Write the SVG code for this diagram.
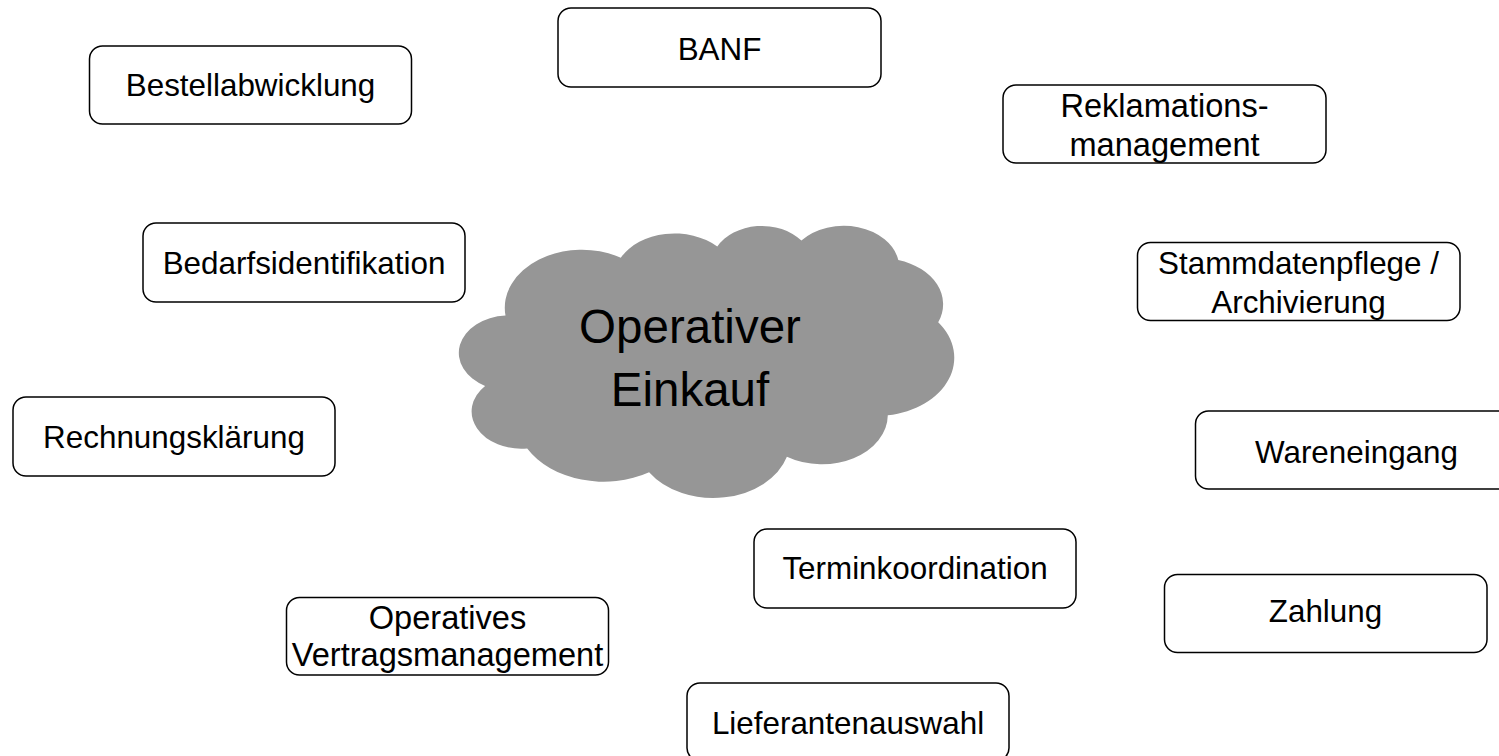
<svg xmlns="http://www.w3.org/2000/svg" width="1499" height="756" viewBox="0 0 1499 756">
<style>
.box{fill:#fff;stroke:#000;stroke-width:1.5}
.t{font-family:"Liberation Sans",Arial,sans-serif;font-size:31.4px;fill:#000;text-anchor:middle}
.w{font-size:32.6px}
.c{font-family:"Liberation Sans",Arial,sans-serif;font-size:47.5px;fill:#000;text-anchor:middle}
</style>
<rect width="1499" height="756" fill="#fff"/>
<g id="cloud">
<path fill="#969696" d="M505.5,315.5 A77.07,57.86 0 0 1 620.8,257.7 A60.86,45.76 0 0 1 717.3,246.6 A49.81,37.43 0 0 1 801.4,240.6 A55.43,41.52 0 0 1 898.3,260.1 A60.86,45.79 0 0 1 938.2,322.3 A77.32,58.05 0 0 1 887.8,415.2 A66.02,49.53 0 0 1 786.9,456.8 A77.05,58.02 0 0 1 649.1,472.2 A88.1,66.38 0 0 1 527.2,448.4 A49.76,37.26 0 0 1 485.1,385.9 A49.59,37.43 0 0 1 505.5,315.5 Z"/>
<text class="c" x="690" y="342.5">Operativer</text>
<text class="c" x="690" y="405.5">Einkauf</text>
</g>
<g id="connectors"></g>
<g id="banf"><rect class="box" x="558" y="8" width="323" height="79" rx="13"/><text class="t" x="719.5" y="60">BANF</text></g>
<g id="bestellabwicklung"><rect class="box" x="89.5" y="46" width="322" height="78" rx="13"/><text class="t" x="250.5" y="96">Bestellabwicklung</text></g>
<g id="reklamation"><rect class="box" x="1003" y="85" width="323" height="78" rx="13"/><text class="t w" x="1164.5" y="117">Reklamations-</text><text class="t w" x="1164.5" y="155.5">management</text></g>
<g id="bedarfsidentifikation"><rect class="box" x="143" y="223" width="322" height="79" rx="13"/><text class="t" x="304" y="273.5">Bedarfsidentifikation</text></g>
<g id="stammdaten"><rect class="box" x="1137.5" y="242.5" width="322.5" height="78" rx="13"/><text class="t" x="1298.5" y="274">Stammdatenpflege /</text><text class="t" x="1298.5" y="312.5">Archivierung</text></g>
<g id="rechnungsklaerung"><rect class="box" x="13" y="397" width="322" height="79" rx="13"/><text class="t" x="174" y="448">Rechnungsklärung</text></g>
<g id="wareneingang"><rect class="box" x="1195.5" y="411" width="322" height="78" rx="13"/><text class="t" x="1356.5" y="463">Wareneingang</text></g>
<g id="terminkoordination"><rect class="box" x="754" y="529" width="322" height="79" rx="13"/><text class="t" x="915" y="578.5">Terminkoordination</text></g>
<g id="zahlung"><rect class="box" x="1164.5" y="574.5" width="322.5" height="78" rx="13"/><text class="t" x="1325.5" y="622">Zahlung</text></g>
<g id="vertragsmanagement"><rect class="box" x="286.5" y="597.5" width="322" height="77.5" rx="13"/><text class="t w" x="447.5" y="628.5">Operatives</text><text class="t w" x="447.5" y="665.5">Vertragsmanagement</text></g>
<g id="lieferantenauswahl"><rect class="box" x="687" y="683" width="322" height="78" rx="13"/><text class="t" x="848" y="734">Lieferantenauswahl</text></g>
</svg>
